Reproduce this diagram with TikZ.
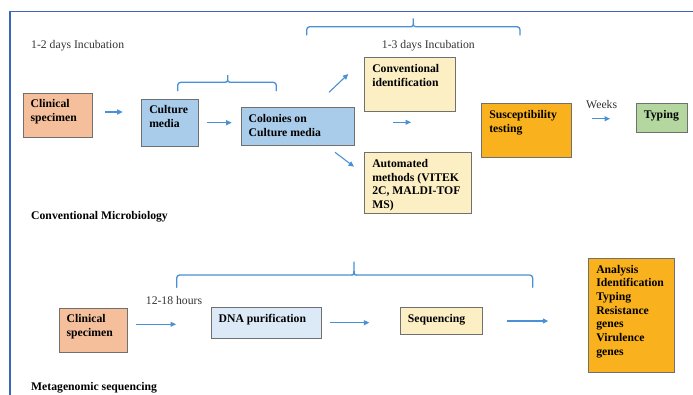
\documentclass[tikz,border=0pt]{standalone}
\usepackage{fontspec}
\setmainfont{Liberation Serif}
\usetikzlibrary{arrows.meta}
\definecolor{salmon}{HTML}{F5BF9B}
\definecolor{lblue}{HTML}{A9CCEA}
\definecolor{pyellow}{HTML}{FCEFC3}
\definecolor{orng}{HTML}{F9B11D}
\definecolor{lgreen}{HTML}{B4D7A0}
\definecolor{pblue}{HTML}{DCE9F6}
\definecolor{arrblue}{HTML}{4A90D6}
\definecolor{frameblue}{HTML}{3A66BE}
\definecolor{boxline}{HTML}{707070}
\newcommand\bxt[3]{\parbox[c][\dimexpr #2pt-13pt\relax][t]{\dimexpr #1pt-15pt\relax}{\raggedright #3}}
\tikzset{
  box/.style={draw=boxline, line width=0.9pt, anchor=north west, inner xsep=7.5pt, inner ysep=6.5pt,
    font=\fontsize{11.7}{13.7}\selectfont\bfseries, align=left},
  arr/.style={draw=arrblue, line width=1.1pt, -{Triangle[length=5.5pt,width=5pt]}},
  brace/.style={draw=arrblue, line width=1.3pt, line cap=round},
  lbl/.style={font=\fontsize{11.7}{13.7}\selectfont, text=black!80, inner sep=0pt},
  blbl/.style={font=\fontsize{11.7}{13.7}\selectfont\bfseries, inner sep=0pt},
}
\begin{document}
\begin{tikzpicture}[x=1pt,y=-1pt]
\useasboundingbox (0,0) rectangle (693,394);
% frame
\draw[frameblue, line width=1.1pt] (10,395) -- (10,11.5) -- (694,11.5);

% labels
\node[lbl, anchor=west] (l12) at (31,45.7) {1-2 days Incubation};
\node[lbl, anchor=west] (l13) at (381.7,45.3) {1-3 days Incubation};
\node[lbl, anchor=west] (wk) at (586,105) {Weeks};
\node[lbl, anchor=west] (h1218) at (145.7,300) {12-18 hours};
\node[blbl, anchor=west] (conv) at (31,216.7) {Conventional Microbiology};
\node[blbl, anchor=west] (meta) at (31,387.7) {Metagenomic sequencing};

% top row boxes
\node[box, fill=salmon] (cs1) at (22.7,92.7) {\bxt{69}{44.3}{Clinical\\specimen}};
\node[box, fill=lblue] (cm) at (141.3,98.7) {\bxt{56.7}{47.3}{Culture\\media}};
\node[box, fill=lblue] (col) at (240.7,107.3) {\bxt{113.6}{38}{Colonies on\\Culture media}};
\node[box, fill=pyellow] (ci) at (364.3,57.3) {\bxt{90.4}{53.4}{Conventional\\identification}};
\node[box, fill=pyellow] (am) at (364.3,152.3) {\bxt{106.7}{61}{Automated\\methods (VITEK\\2C, MALDI-TOF\\MS)}};
\node[box, fill=orng] (st) at (481.3,103.3) {\bxt{90}{53.4}{Susceptibility\\testing}};
\node[box, fill=lgreen] (ty) at (636,103.3) {\bxt{51.3}{29}{Typing}};

% bottom row boxes
\node[box, fill=salmon] (cs2) at (58.7,307.7) {\bxt{68.6}{44}{Clinical\\specimen}};
\node[box, fill=pblue] (dna) at (210.7,307.3) {\bxt{110}{30.7}{DNA purification}};
\node[box, fill=pyellow] (sq) at (400,307.3) {\bxt{82.3}{26.7}{Sequencing}};
\node[box, fill=orng] (an) at (588.3,258) {\bxt{86}{114.3}{Analysis\\Identification\\Typing\\Resistance\\genes\\Virulence\\genes}};

% arrow end points
\coordinate (a1s) at (105,112); \coordinate (a1e) at (122.7,112);
\coordinate (a2s) at (206.7,122.7); \coordinate (a2e) at (231.7,122.7);
\coordinate (a3s) at (329,92.3); \coordinate (a3e) at (348.3,74);
\coordinate (a4s) at (335,152.3); \coordinate (a4e) at (354,166.7);
\coordinate (a5s) at (392.7,122.3); \coordinate (a5e) at (411,122.3);
\coordinate (a6s) at (592.3,118.7); \coordinate (a6e) at (610,118.7);
\coordinate (b1s) at (136,324.3); \coordinate (b1e) at (176,324.3);
\coordinate (b2s) at (330,322.7); \coordinate (b2e) at (369.3,322.7);
\coordinate (b3s) at (507.3,321); \coordinate (b3e) at (548.3,321);
\foreach \s/\e in {a1s/a1e,a2s/a2e,a3s/a3e,a4s/a4e,a5s/a5e,a6s/a6e,b1s/b1e,b2s/b2e,b3s/b3e}
  \draw[arr] (\s) -- (\e);

% braces
\draw[brace, rounded corners=3pt] (177.7,90.7) -- (177.7,82.3) -- (225.5,82.3);
\draw[brace] (225.5,82.3) .. controls (227.7,82.3) .. (227.7,75) .. controls (227.7,82.3) .. (229.9,82.3);
\draw[brace, rounded corners=3pt] (229.9,82.3) -- (276.3,82.3) -- (276.3,90.7);

\draw[brace, rounded corners=3pt] (306.7,35) -- (306.7,26.7) -- (411,26.7);
\draw[brace] (411,26.7) .. controls (413.3,26.7) .. (413.3,18.3) .. controls (413.3,26.7) .. (415.6,26.7);
\draw[brace, rounded corners=3pt] (415.6,26.7) -- (520,26.7) -- (520,35);

\draw[brace, rounded corners=3pt] (176.7,287.3) -- (176.7,275) -- (351.7,275);
\draw[brace] (351.7,275) .. controls (354,275) .. (354,261.7) .. controls (354,275) .. (356.3,275);
\draw[brace, rounded corners=3pt] (356.3,275) -- (532.7,275) -- (532.7,287.3);
\end{tikzpicture}
\end{document}
